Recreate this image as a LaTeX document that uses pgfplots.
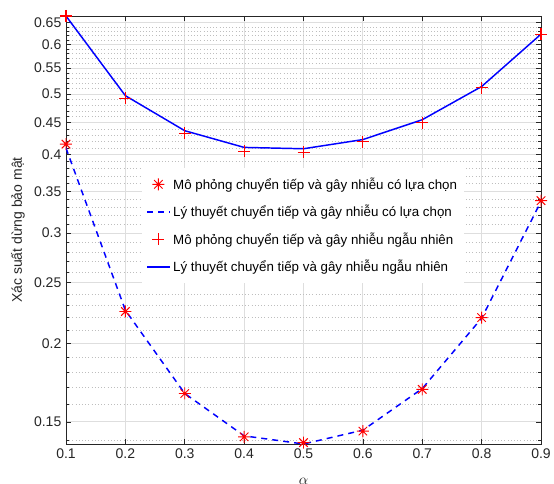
\documentclass[border=0pt]{standalone}
\usepackage{pgfplots}
\pgfplotsset{compat=1.18}
\usepackage{fontspec}
\setmainfont{Liberation Sans}

% MATLAB-style '*' marker (8 arms)
\pgfdeclareplotmark{mstar}{%
  \pgfpathmoveto{\pgfqpoint{-\pgfplotmarksize}{0pt}}\pgfpathlineto{\pgfqpoint{\pgfplotmarksize}{0pt}}%
  \pgfpathmoveto{\pgfqpoint{0pt}{-\pgfplotmarksize}}\pgfpathlineto{\pgfqpoint{0pt}{\pgfplotmarksize}}%
  \pgfpathmoveto{\pgfqpoint{-.7071\pgfplotmarksize}{-.7071\pgfplotmarksize}}\pgfpathlineto{\pgfqpoint{.7071\pgfplotmarksize}{.7071\pgfplotmarksize}}%
  \pgfpathmoveto{\pgfqpoint{-.7071\pgfplotmarksize}{.7071\pgfplotmarksize}}\pgfpathlineto{\pgfqpoint{.7071\pgfplotmarksize}{-.7071\pgfplotmarksize}}%
  \pgfusepathqstroke}

\definecolor{axgray}{RGB}{38,38,38}
\definecolor{gridmaj}{RGB}{222,222,222}
\definecolor{gridmin}{RGB}{190,190,190}

\begin{document}
\begin{tikzpicture}
\begin{axis}[
    name=ax,
    scale only axis,
    width=356.25pt,
    height=321pt,
    xmin=0.1, xmax=0.9,
    ymode=log,
    ymin=0.1383, ymax=0.666,
    xtick={0.1,0.2,0.3,0.4,0.5,0.6,0.7,0.8,0.9},
    xticklabels={0.1,0.2,0.3,0.4,0.5,0.6,0.7,0.8,0.9},
    ytick={0.15,0.2,0.25,0.3,0.35,0.4,0.45,0.5,0.55,0.6,0.65},
    yticklabels={0.15,0.2,0.25,0.3,0.35,0.4,0.45,0.5,0.55,0.6,0.65},
    minor ytick={0.14,0.16,0.17,0.18,0.19,0.21,0.22,0.23,0.24,0.26,0.27,0.28,0.29,
                 0.31,0.32,0.33,0.34,0.36,0.37,0.38,0.39,0.41,0.42,0.43,0.44,
                 0.46,0.47,0.48,0.49,0.51,0.52,0.53,0.54,0.56,0.57,0.58,0.59,
                 0.61,0.62,0.63,0.64},
    grid=both,
    major grid style={gridmaj, line width=0.6pt},
    minor grid style={gridmin, dotted, line width=0.5pt},
    axis line style={axgray, line width=0.5pt},
    tick style={axgray, line width=0.5pt},
    major tick length=3.5pt,
    minor tick length=2pt,
    tick align=inside,
    ticklabel style={font=\fontsize{10.5}{12}\selectfont, text=axgray},
    xlabel={\rule{0pt}{12.8pt}$\alpha$},
    ylabel={Xác suất dừng bảo mật},
    label style={font=\fontsize{10.5}{12}\selectfont, text=axgray},
    legend cell align=left,
    legend style={at={(0.16,0.645)}, anchor=north west, draw=none, fill=white,
        font=\fontsize{10}{12}\selectfont, row sep=6.5pt, inner xsep=3pt, inner ysep=5pt},
    legend image post style={},
]

% Selective relaying & jamming: simulation
\addplot[only marks, mark=mstar, mark size=4.5pt, red, line width=0.7pt]
coordinates {
(0.1,0.416) (0.2,0.225) (0.3,0.1665) (0.4,0.142) (0.5,0.139)
(0.6,0.145) (0.7,0.169) (0.8,0.220) (0.9,0.338)
};
\addlegendentry{Mô phỏng chuyển tiếp và gây nhiễu có lựa chọn}

% Selective relaying & jamming: theory
\addplot[blue, line width=1.1pt, dash pattern=on 4.5pt off 3.8pt, mark=none]
coordinates {
(0.1,0.410) (0.2,0.226) (0.3,0.1665) (0.4,0.1425) (0.5,0.1383)
(0.6,0.1455) (0.7,0.1695) (0.8,0.2195) (0.9,0.337)
};
\addlegendentry{Lý thuyết chuyển tiếp và gây nhiễu có lựa chọn}

% Random relaying & jamming: simulation
\addplot[only marks, mark=+, mark size=4.5pt, red, line width=0.8pt]
coordinates {
(0.1,0.666) (0.2,0.492) (0.3,0.433) (0.4,0.405) (0.5,0.404)
(0.6,0.420) (0.7,0.450) (0.8,0.512) (0.9,0.623)
};
\addlegendentry{Mô phỏng chuyển tiếp và gây nhiễu ngẫu nhiên}

% Random relaying & jamming: theory
\addplot[blue, line width=1.1pt, mark=none]
coordinates {
(0.1,0.666) (0.2,0.497) (0.3,0.437) (0.4,0.411) (0.5,0.409)
(0.6,0.423) (0.7,0.455) (0.8,0.514) (0.9,0.623)
};
\addlegendentry{Lý thuyết chuyển tiếp và gây nhiễu ngẫu nhiên}

\end{axis}
\pgfresetboundingbox
\useasboundingbox ([shift={(-49.5pt,-30pt)}]ax.south west) rectangle ([shift={(9.75pt,12pt)}]ax.north east);
\end{tikzpicture}
\end{document}
